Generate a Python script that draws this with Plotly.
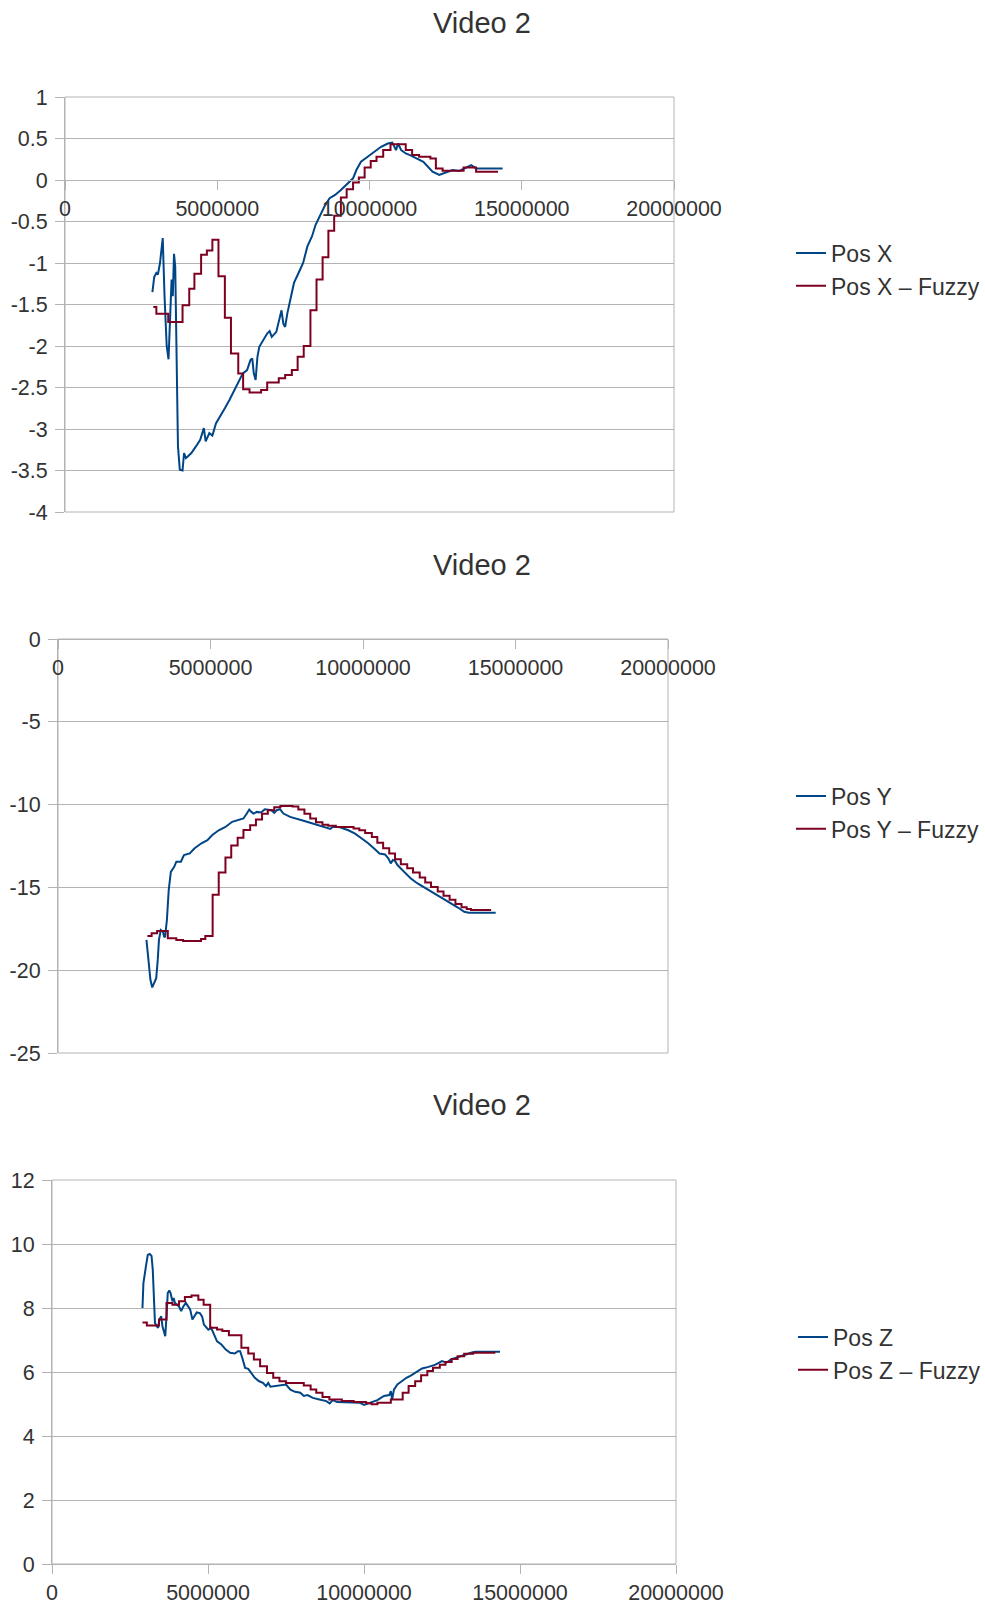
import plotly.graph_objects as go

# ---------------- data (time in millions) ----------------
MILLION = 1e6
title_text = "Video 2"
x_tick_vals = [0, 5000000, 10000000, 15000000, 20000000]
x_tick_text = ["0", "5000000", "10000000", "15000000", "20000000"]

y1_tick_vals = [1, 0.5, 0, -0.5, -1, -1.5, -2, -2.5, -3, -3.5, -4]
y1_tick_text = ["1", "0.5", "0", "-0.5", "-1", "-1.5", "-2", "-2.5", "-3", "-3.5", "-4"]
y2_tick_vals = [0, -5, -10, -15, -20, -25]
y2_tick_text = ["0", "-5", "-10", "-15", "-20", "-25"]
y3_tick_vals = [0, 2, 4, 6, 8, 10, 12]
y3_tick_text = ["0", "2", "4", "6", "8", "10", "12"]

# Pos X
posx_t = [2.87, 2.93, 3.00, 3.05, 3.12, 3.21, 3.27, 3.34, 3.40, 3.46, 3.50, 3.54, 3.58, 3.62, 3.67,
          3.71, 3.77, 3.86, 3.91, 3.97, 4.03, 4.15, 4.30, 4.44, 4.56, 4.62, 4.74, 4.84, 4.96, 5.10,
          5.25, 5.40, 5.54, 5.69, 5.84, 5.98, 6.09, 6.15, 6.20, 6.26, 6.32, 6.38, 6.50, 6.64, 6.72,
          6.79, 6.94, 7.02, 7.11, 7.17, 7.23, 7.30, 7.40, 7.52, 7.67, 7.82, 7.96, 8.11, 8.23, 8.37,
          8.52, 8.69, 8.87, 9.06, 9.28, 9.46, 9.57, 9.72, 9.94, 10.16, 10.38, 10.60, 10.75, 10.87, 10.94,
          11.04, 11.19, 11.33, 11.55, 11.77, 11.92, 12.07, 12.29, 12.51, 12.73, 12.95, 13.17, 13.34, 13.50, 14.37]
posx_v = [-1.35, -1.17, -1.12, -1.14, -1.0, -0.70, -1.41, -2.0, -2.16, -1.69, -1.2, -1.4, -0.89, -1.04, -2.0,
          -3.21, -3.49, -3.5, -3.29, -3.35, -3.33, -3.29, -3.21, -3.13, -2.99, -3.15, -3.05, -3.08, -2.93, -2.85,
          -2.75, -2.65, -2.55, -2.43, -2.33, -2.29, -2.17, -2.15, -2.33, -2.41, -2.13, -2.01, -1.93, -1.85, -1.82,
          -1.89, -1.83, -1.69, -1.57, -1.73, -1.77, -1.61, -1.45, -1.24, -1.12, -1.0, -0.80, -0.68, -0.54, -0.44,
          -0.32, -0.22, -0.18, -0.12, -0.04, 0.02, 0.12, 0.22, 0.28, 0.34, 0.40, 0.44, 0.45, 0.36, 0.44,
          0.36, 0.32, 0.30, 0.26, 0.22, 0.16, 0.10, 0.06, 0.09, 0.12, 0.11, 0.15, 0.18, 0.14, 0.14]

# Pos X - Fuzzy (step starts)
fuzx_t = [2.90, 3.00, 3.39, 3.86, 4.08, 4.25, 4.47, 4.66, 4.84, 5.04, 5.25, 5.45, 5.69, 5.85, 6.06,
          6.44, 6.64, 7.02, 7.23, 7.45, 7.64, 7.84, 8.06, 8.26, 8.46, 8.65, 8.84, 9.06, 9.25, 9.46,
          9.65, 9.84, 10.04, 10.23, 10.45, 10.69, 11.19, 11.40, 11.63, 12.00, 12.18, 12.40, 13.09, 13.50, 14.22]
fuzx_v = [-1.53, -1.61, -1.71, -1.51, -1.31, -1.13, -0.90, -0.85, -0.72, -1.16, -1.66, -2.09, -2.33, -2.52, -2.56,
          -2.53, -2.44, -2.39, -2.35, -2.29, -2.13, -2.00, -1.57, -1.20, -0.93, -0.61, -0.43, -0.21, -0.11, -0.03,
          0.03, 0.15, 0.23, 0.28, 0.36, 0.43, 0.36, 0.30, 0.28, 0.26, 0.14, 0.11, 0.15, 0.10, 0.10]

# Pos Y
posy_t = [2.90, 2.96, 3.03, 3.09, 3.16, 3.22, 3.27, 3.31, 3.37, 3.44, 3.48, 3.51, 3.57, 3.63, 3.70,
          3.81, 3.88, 4.03, 4.13, 4.32, 4.47, 4.69, 4.90, 5.05, 5.27, 5.49, 5.71, 5.93, 6.08, 6.19,
          6.27, 6.34, 6.41, 6.52, 6.66, 6.78, 6.88, 7.00, 7.09, 7.17, 7.28, 7.39, 7.61, 7.83, 8.05,
          8.35, 8.64, 8.86, 8.93, 9.00, 9.22, 9.52, 9.74, 9.96, 10.18, 10.40, 10.54, 10.72, 10.83, 10.91,
          10.98, 11.05, 11.13, 11.35, 11.57, 11.79, 12.01, 12.23, 12.45, 12.66, 12.88, 13.10, 13.32, 13.47, 14.35]
posy_v = [-18.17, -19.28, -20.58, -21.04, -20.78, -20.48, -19.38, -18.17, -17.57, -17.67, -17.97, -18.01, -16.97, -15.16, -14.06,
          -13.76, -13.45, -13.45, -13.05, -12.95, -12.65, -12.35, -12.15, -11.85, -11.55, -11.35, -11.04, -10.94, -10.84, -10.54,
          -10.30, -10.44, -10.54, -10.44, -10.48, -10.28, -10.30, -10.34, -10.50, -10.34, -10.28, -10.54, -10.74, -10.84, -10.98,
          -11.14, -11.31, -11.41, -11.47, -11.35, -11.35, -11.55, -11.75, -12.05, -12.35, -12.71, -12.95, -13.01, -13.25, -13.55,
          -13.35, -13.40, -13.65, -14.06, -14.46, -14.76, -15.00, -15.20, -15.46, -15.70, -15.96, -16.20, -16.47, -16.53, -16.53]

# Pos Y - Fuzzy (step starts)
fuzy_t = [2.93, 3.07, 3.25, 3.60, 3.88, 4.10, 4.69, 4.83, 5.07, 5.27, 5.49, 5.68, 5.89, 6.08, 6.30,
          6.49, 6.69, 6.88, 7.09, 7.29, 7.69, 7.88, 8.08, 8.27, 8.46, 8.67, 8.86, 9.11, 9.69, 9.88,
          10.07, 10.29, 10.47, 10.66, 10.86, 11.05, 11.24, 11.45, 11.64, 11.86, 12.04, 12.23, 12.45, 12.64, 12.84,
          13.03, 13.23, 13.40, 13.54, 14.20]
fuzy_v = [-17.93, -17.77, -17.63, -18.07, -18.17, -18.23, -18.12, -17.93, -15.44, -14.10, -13.19, -12.47, -12.00, -11.53, -11.24,
          -10.90, -10.56, -10.34, -10.16, -10.08, -10.12, -10.30, -10.56, -10.84, -11.06, -11.22, -11.28, -11.35, -11.45, -11.55,
          -11.71, -11.95, -12.30, -12.63, -12.95, -13.30, -13.60, -13.85, -14.10, -14.40, -14.70, -14.98, -15.25, -15.50, -15.75,
          -16.00, -16.20, -16.30, -16.37, -16.37]

# Pos Z
posz_t = [2.90, 2.93, 3.01, 3.07, 3.13, 3.19, 3.23, 3.26, 3.30, 3.36,
          3.40, 3.44, 3.50, 3.54, 3.59, 3.63, 3.67, 3.71, 3.76, 3.80,
          3.86, 3.90, 3.94, 4.00, 4.07, 4.14, 4.21, 4.29, 4.36, 4.43,
          4.50, 4.57, 4.64, 4.74, 4.81, 4.87, 4.93, 5.01, 5.10, 5.19,
          5.29, 5.43, 5.57, 5.71, 5.86, 5.96, 6.03, 6.10, 6.19, 6.29,
          6.39, 6.50, 6.64, 6.76, 6.86, 6.93, 7.00, 7.14, 7.33, 7.50,
          7.64, 7.79, 7.96, 8.07, 8.19, 8.36, 8.57, 8.79, 8.90, 9.00,
          9.14, 9.43, 9.71, 9.86, 10.00, 10.21, 10.43, 10.64, 10.81, 10.86,
          10.90, 10.96, 11.07, 11.21, 11.36, 11.50, 11.71, 11.86, 12.07, 12.29,
          12.50, 12.64, 12.79, 13.00, 13.21, 13.43, 13.57, 14.36]
posz_v = [8.00, 8.78, 9.30, 9.66, 9.69, 9.63, 9.19, 8.16, 7.53, 7.43,
          7.38, 7.64, 7.74, 7.43, 7.22, 7.12, 7.74, 8.47, 8.55, 8.47,
          8.21, 8.31, 8.16, 8.10, 8.05, 7.90, 8.05, 8.16, 8.05, 7.95,
          7.64, 7.74, 7.86, 7.84, 7.74, 7.48, 7.41, 7.32, 7.38, 7.17,
          6.96, 6.86, 6.70, 6.60, 6.58, 6.65, 6.65, 6.44, 6.13, 6.10,
          5.97, 5.82, 5.71, 5.66, 5.56, 5.66, 5.54, 5.56, 5.58, 5.61,
          5.45, 5.38, 5.35, 5.25, 5.28, 5.19, 5.14, 5.09, 5.02, 5.12,
          5.06, 5.06, 5.06, 5.04, 4.97, 5.04, 5.12, 5.25, 5.28, 5.40,
          5.14, 5.45, 5.61, 5.71, 5.82, 5.89, 6.03, 6.11, 6.16, 6.23,
          6.34, 6.29, 6.39, 6.46, 6.54, 6.60, 6.63, 6.63]

# Pos Z - Fuzzy (step starts)
fuzz_t = [2.90, 3.04, 3.43, 3.67, 3.86, 4.07, 4.26, 4.47, 4.69, 4.86, 5.07, 5.29, 5.46, 5.67, 6.07,
          6.29, 6.47, 6.67, 6.89, 7.09, 7.29, 7.50, 8.07, 8.29, 8.47, 8.67, 8.89, 9.29, 9.67, 10.07,
          10.24, 10.43, 10.86, 11.24, 11.43, 11.64, 11.83, 12.03, 12.21, 12.43, 12.61, 12.81, 13.00, 13.21, 13.50, 14.21]
fuzz_v = [7.55, 7.45, 7.64, 8.16, 8.10, 8.21, 8.34, 8.39, 8.26, 8.10, 7.38, 7.33, 7.28, 7.15, 6.76,
          6.58, 6.39, 6.18, 5.97, 5.82, 5.71, 5.66, 5.58, 5.45, 5.35, 5.22, 5.14, 5.09, 5.06, 5.02,
          4.99, 5.04, 5.14, 5.35, 5.56, 5.71, 5.90, 6.03, 6.13, 6.23, 6.31, 6.41, 6.49, 6.57, 6.60, 6.60]

# ---------------- styling ----------------
W, H = 985, 1608
BLUE = "#004586"
RED = "#7e0021"
GRID = "#b3b3b3"
TXT = "#333333"
FONT = "Liberation Sans, Arial, sans-serif"
TICK_SIZE = 21.5


def px_x(p):
    return p / W


def px_y(p):
    return 1 - p / H


fig = go.Figure()


def add_line(t, v, name, color, xa, ya, leg, shape="linear"):
    fig.add_trace(go.Scatter(
        x=[a * MILLION for a in t], y=v, mode="lines", name=name,
        line=dict(color=color, width=2, shape=shape),
        xaxis=xa, yaxis=ya, legend=leg, hoverinfo="skip"))


add_line(posx_t, posx_v, "Pos X", BLUE, "x", "y", "legend")
add_line(fuzx_t, fuzx_v, "Pos X – Fuzzy", RED, "x", "y", "legend", "hv")
add_line(posy_t, posy_v, "Pos Y", BLUE, "x2", "y2", "legend2")
add_line(fuzy_t, fuzy_v, "Pos Y – Fuzzy", RED, "x2", "y2", "legend2", "hv")
add_line(posz_t, posz_v, "Pos Z", BLUE, "x3", "y3", "legend3")
add_line(fuzz_t, fuzz_v, "Pos Z – Fuzzy", RED, "x3", "y3", "legend3", "hv")

tickfont = dict(family=FONT, size=TICK_SIZE, color=TXT)


def xaxis_cfg(domain, **kw):
    d = dict(domain=domain, range=[0, 20000000], tickvals=x_tick_vals, ticktext=x_tick_text,
             showgrid=False, zeroline=False, showline=True, linecolor=GRID, linewidth=1,
             ticks="outside", ticklen=9, tickcolor=GRID, tickwidth=1, tickfont=tickfont,
             ticklabelstandoff=0, fixedrange=True, automargin=False)
    d.update(kw)
    return d


def yaxis_cfg(domain, rng, tv, tt, anchor):
    return dict(domain=domain, range=rng, tickvals=tv, ticktext=tt, anchor=anchor,
                showgrid=True, gridcolor=GRID, gridwidth=1, zeroline=False,
                showline=True, linecolor=GRID, linewidth=1,
                ticks="outside", ticklen=9, tickcolor=GRID, tickwidth=1,
                tickfont=tickfont, ticklabelstandoff=3, fixedrange=True, automargin=False)


# plot areas (pixel boxes in the screenshot)
p1 = dict(l=65, r=674, t=97, b=512)
p2 = dict(l=58, r=668, t=639, b=1053)
p3 = dict(l=52, r=676, t=1180, b=1564)

d1x = [px_x(p1["l"]), px_x(p1["r"])]
d1y = [px_y(p1["b"]), px_y(p1["t"])]
d2x = [px_x(p2["l"]), px_x(p2["r"])]
d2y = [px_y(p2["b"]), px_y(p2["t"])]
d3x = [px_x(p3["l"]), px_x(p3["r"])]
d3y = [px_y(p3["b"]), px_y(p3["t"])]

# x axis of chart 1 crosses at y = 0
y0_frac = (0 - (-4)) / (1 - (-4))
pos1 = d1y[0] + y0_frac * (d1y[1] - d1y[0])

fig.update_layout(
    template="none",
    width=W, height=H, margin=dict(l=0, r=0, t=0, b=0, pad=0, autoexpand=False),
    paper_bgcolor="white", plot_bgcolor="white",
    font=dict(family=FONT, color=TXT),
    xaxis=xaxis_cfg(d1x, anchor="free", position=pos1, side="bottom"),
    yaxis=yaxis_cfg(d1y, [-4, 1], y1_tick_vals, y1_tick_text, "x"),
    xaxis2=xaxis_cfg(d2x, anchor="free", position=d2y[1], side="bottom"),
    yaxis2=yaxis_cfg(d2y, [-25, 0], y2_tick_vals, y2_tick_text, "x2"),
    xaxis3=xaxis_cfg(d3x, anchor="y3"),
    yaxis3=yaxis_cfg(d3y, [0, 12], y3_tick_vals, y3_tick_text, "x3"),
)

legend_common = dict(xanchor="left", yanchor="middle", bgcolor="rgba(0,0,0,0)",
                     xref="container", yref="container",
                     font=dict(family=FONT, size=23, color=TXT), itemwidth=30,
                     tracegroupgap=0, borderwidth=0)
fig.update_layout(
    legend=dict(x=px_x(791), y=px_y(269.5), **legend_common),
    legend2=dict(x=px_x(791), y=px_y(812.5), **legend_common),
    legend3=dict(x=px_x(793), y=px_y(1353.5), **legend_common),
)

# plot-area frames
for xr, yr in [("x", "y"), ("x2", "y2"), ("x3", "y3")]:
    fig.add_shape(type="rect", xref=f"{xr} domain", yref=f"{yr} domain",
                  x0=0, x1=1, y0=0, y1=1, line=dict(color=GRID, width=1), layer="below")

# titles
for ty in [22.5, 565, 1105]:
    fig.add_annotation(text=title_text, x=px_x(482), y=px_y(ty), xref="paper", yref="paper",
                       xanchor="center", yanchor="middle", showarrow=False,
                       font=dict(family=FONT, size=29, color=TXT))

# remove the page's default body margin so the figure fills the window exactly
fig.write_html("out.html", config={"displayModeBar": False},
               post_script="document.body.style.margin='0';document.body.style.overflow='hidden';")
